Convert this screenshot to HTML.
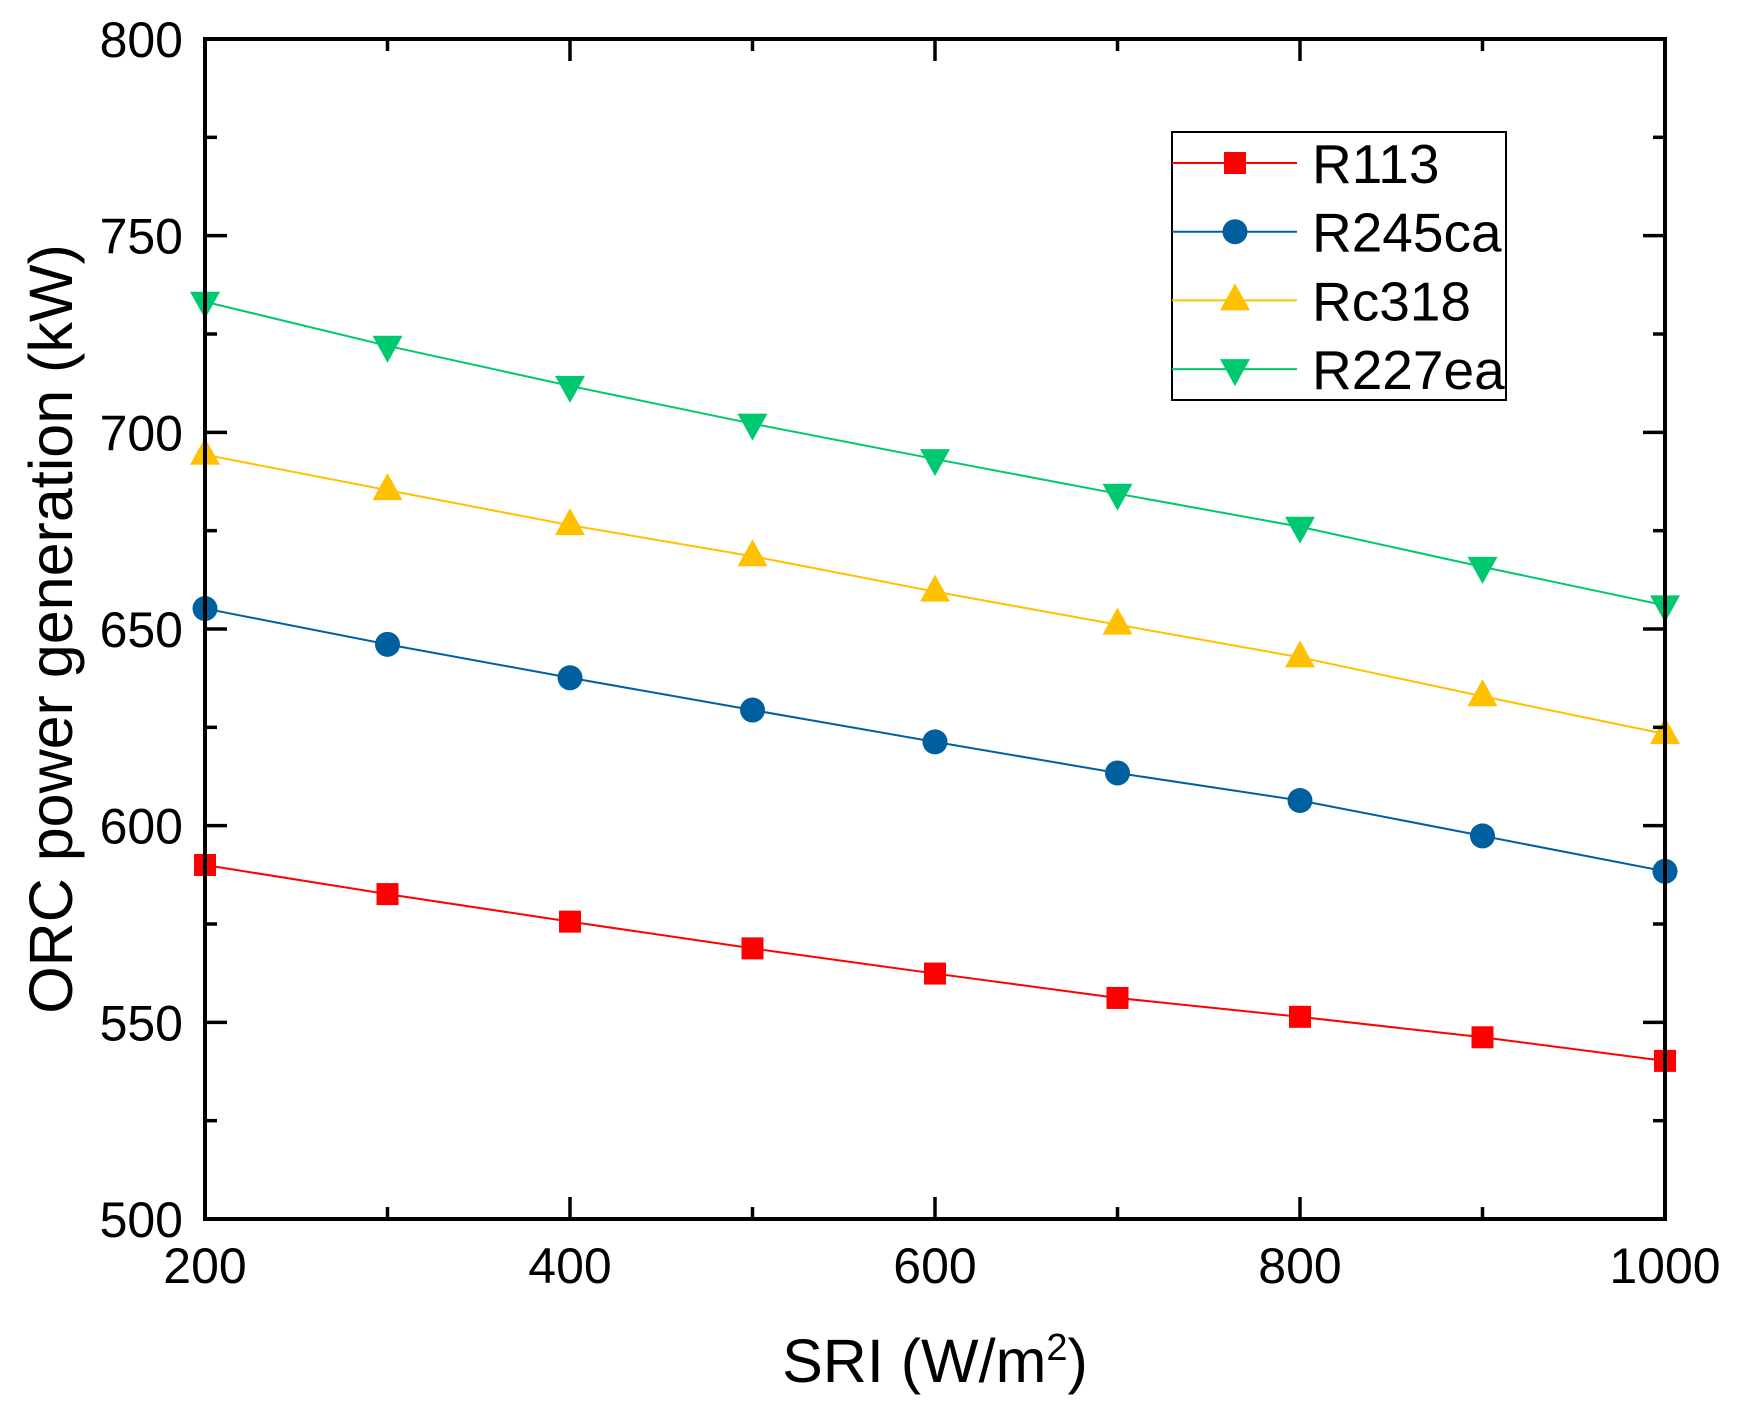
<!DOCTYPE html>
<html><head><meta charset="utf-8"><style>
body{margin:0;background:#fff}
svg{display:block;font-family:"Liberation Sans",Arial,sans-serif}
</style></head><body>
<svg id="c" width="1739" height="1410" viewBox="0 0 1739 1410">
<rect width="1739" height="1410" fill="#fff"/>
<g id="plot"></g>
</svg>
<script>
const xValues=[200,300,400,500,600,700,800,900,1000];
const r113=[590,582.6,575.6,568.8,562.4,556.2,551.4,546.2,540.2];
const r245ca=[655.2,646.1,637.6,629.4,621.3,613.4,606.4,597.4,588.4];
const rc318=[694.3,685.3,676.4,668.5,659.5,651.1,642.8,632.9,623.3];
const r227ea=[733.2,722.0,711.8,702.2,693.2,684.4,676.0,665.8,656.0];
const xTicks=[200,400,600,800,1000];
const yTicks=[500,550,600,650,700,750,800];
const seriesNames=["R113","R245ca","Rc318","R227ea"];

const L=205,R=1665,T=39,B=1219;
const X=v=>L+(v-200)/800*(R-L);
const Y=v=>B-(v-500)/300*(B-T);
const NS="http://www.w3.org/2000/svg";
const g=document.getElementById('plot');
function mk(t,a,p){const e=document.createElementNS(NS,t);for(const k in a)e.setAttribute(k,a[k]);(p||g).appendChild(e);return e;}

const series=[
 {name:seriesNames[0],data:r113,color:"#ff0000",m:"square"},
 {name:seriesNames[1],data:r245ca,color:"#005f9e",m:"circle"},
 {name:seriesNames[2],data:rc318,color:"#ffc000",m:"up"},
 {name:seriesNames[3],data:r227ea,color:"#00c86e",m:"down"}];
function marker(type,cx,cy,col,parent){
 let e;
 if(type==="square")e=mk('rect',{x:cx-11,y:cy-11,width:22,height:22,fill:col},parent);
 else if(type==="circle")e=mk('circle',{cx:cx,cy:cy,r:12.5,fill:col},parent);
 else if(type==="up")e=mk('polygon',{points:`${cx},${cy-17} ${cx-15},${cy+10} ${cx+15},${cy+10}`,fill:col},parent);
 else e=mk('polygon',{points:`${cx},${cy+17} ${cx-15},${cy-10} ${cx+15},${cy-10}`,fill:col},parent);
 return e;
}
series.forEach((s,si)=>{
 const sg=mk('g',{});
 
 
 const pl=mk('polyline',{points:s.data.map((v,i)=>X(xValues[i])+','+Y(v)).join(' '),fill:'none',stroke:s.color,'stroke-width':2},sg);
 
 
 s.data.forEach((v,i)=>{
  const m=marker(s.m,X(xValues[i]),Y(v),s.color,sg);
  
  
 });
});
const fr=mk('rect',{x:L,y:T,width:R-L,height:B-T,fill:'none',stroke:'#000','stroke-width':4});


for(let v=200;v<=1000;v+=100){
 const len=v%200===0?22:12;
 mk('line',{x1:X(v),x2:X(v),y1:B,y2:B-len,stroke:'#000','stroke-width':3.5});
 mk('line',{x1:X(v),x2:X(v),y1:T,y2:T+len,stroke:'#000','stroke-width':3.5});
}
for(let v=500;v<=800;v+=25){
 const len=v%50===0?22:12;
 mk('line',{x1:L,x2:L+len,y1:Y(v),y2:Y(v),stroke:'#000','stroke-width':3.5});
 mk('line',{x1:R,x2:R-len,y1:Y(v),y2:Y(v),stroke:'#000','stroke-width':3.5});
}
xTicks.forEach(v=>{
 const t=mk('text',{x:X(v),y:B+64,'font-size':50,'text-anchor':'middle'});t.textContent=v;
 
 
});
yTicks.forEach(v=>{
 const t=mk('text',{x:L-22,y:Y(v)+18,'font-size':50,'text-anchor':'end'});t.textContent=v;
 
 
});
const xt=mk('text',{x:(L+R)/2,y:1382,'font-size':61,'text-anchor':'middle'});
xt.innerHTML='SRI (W/m<tspan dy="-22" font-size="38">2</tspan><tspan dy="22">)</tspan>';


const yt=mk('text',{x:0,y:0,'font-size':61,'text-anchor':'middle',transform:`translate(72,${(T+B)/2}) rotate(-90)`});
yt.textContent='ORC power generation (kW)';


const lg=mk('g',{});


mk('rect',{x:1172,y:132,width:334,height:268,fill:'#fff',stroke:'#000','stroke-width':2},lg);
series.forEach((s,i)=>{
 const cy=163+i*68.7;
 const e=mk('g',{},lg);
 
 
 mk('line',{x1:1172,x2:1297,y1:cy,y2:cy,stroke:s.color,'stroke-width':2},e);
 marker(s.m,1235,cy,s.color,e);
 const t=mk('text',{x:1312,y:cy+20,'font-size':55},e);t.textContent=s.name;
});
</script>
</body></html>
